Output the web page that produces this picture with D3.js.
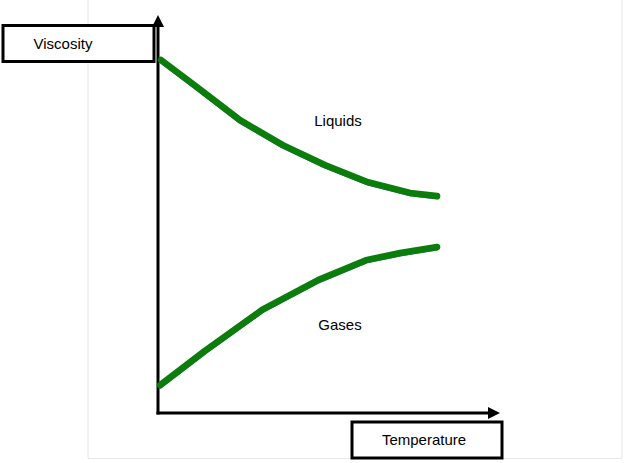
<!DOCTYPE html>
<html><head><meta charset="utf-8">
<script src="https://cdn.jsdelivr.net/npm/d3@7"></script>
<style>body{margin:0;background:#fff}svg{display:block}</style>
</head><body>
<svg id="c" width="625" height="463"></svg>
<script>
// Data (arbitrary units: temperature 0-10, viscosity 0-10)
const liquidsT = [0.09, 1.14, 2.40, 3.65, 4.88, 6.14, 7.37, 8.16];
const liquidsV = [8.87, 8.19, 7.36, 6.73, 6.23, 5.80, 5.53, 5.45];
const gasesT = [0.06, 1.37, 3.04, 4.68, 6.08, 7.08, 8.16];
const gasesV = [0.70, 1.56, 2.59, 3.34, 3.84, 4.02, 4.17];
const seriesNames = ["Liquids", "Gases"];
const axisTitles = ["Viscosity", "Temperature"];

const svg = d3.select("#c");
const x = d3.scaleLinear().domain([0, 10]).range([158, 500]);
const y = d3.scaleLinear().domain([0, 10]).range([413, 15]);
const font = "Liberation Sans, Arial, sans-serif";

// faint page border
svg.append("line").attr("x1",88).attr("x2",88).attr("y1",0).attr("y2",458).attr("stroke","#e4e4e4").attr("stroke-width",1);
svg.append("line").attr("x1",622).attr("x2",622).attr("y1",0).attr("y2",458).attr("stroke","#e4e4e4").attr("stroke-width",1);
svg.append("line").attr("x1",88).attr("x2",622).attr("y1",458.5).attr("y2",458.5).attr("stroke","#e8e8e8").attr("stroke-width",1);

// axes
svg.append("line").attr("x1",x(0)).attr("x2",x(0)).attr("y1",y(0)+1.5).attr("y2",y(10)+10)
  .attr("stroke","#000").attr("stroke-width",3);
svg.append("path").attr("d",`M${x(0)-6},${y(10)+12} L${x(0)},${y(10)} L${x(0)+6},${y(10)+12} Z`).attr("fill","#000");
svg.append("line").attr("x1",x(0)-1.5).attr("x2",x(10)-10).attr("y1",y(0)).attr("y2",y(0))
  .attr("stroke","#000").attr("stroke-width",3);
svg.append("path").attr("d",`M${x(10)-12},${y(0)-6} L${x(10)},${y(0)} L${x(10)-12},${y(0)+6} Z`).attr("fill","#000");

// curves
const line = d3.line().x(d=>x(d[0])).y(d=>y(d[1]));
const liq = liquidsT.map((t,i)=>[t, liquidsV[i]]);
const gas = gasesT.map((t,i)=>[t, gasesV[i]]);
[liq, gas].forEach(pts=>{
  svg.append("path").attr("d", line(pts)).attr("fill","none").attr("stroke","#3b6190")
    .attr("stroke-width",5).attr("transform","translate(0,1)").attr("stroke-linecap","round");
  svg.append("path").attr("d", line(pts)).attr("fill","none").attr("stroke","#0b7d0b")
    .attr("stroke-width",6.5).attr("stroke-linecap","round").attr("stroke-linejoin","round");
});

// labels
svg.append("text").attr("x",338).attr("y",126).attr("text-anchor","middle")
  .attr("font-family",font).attr("font-size",15).text(seriesNames[0]);
svg.append("text").attr("x",340).attr("y",330).attr("text-anchor","middle")
  .attr("font-family",font).attr("font-size",15).text(seriesNames[1]);

// title boxes
svg.append("rect").attr("x",3).attr("y",25.5).attr("width",151).attr("height",36).attr("fill","#fff").attr("stroke","#000").attr("stroke-width",3);
svg.append("text").attr("x",63).attr("y",49).attr("text-anchor","middle")
  .attr("font-family",font).attr("font-size",15).text(axisTitles[0]);
svg.append("rect").attr("x",352).attr("y",422).attr("width",150).attr("height",36).attr("fill","#fff").attr("stroke","#000").attr("stroke-width",3);
svg.append("text").attr("x",424).attr("y",445).attr("text-anchor","middle")
  .attr("font-family",font).attr("font-size",15).text(axisTitles[1]);
</script>
</body></html>
